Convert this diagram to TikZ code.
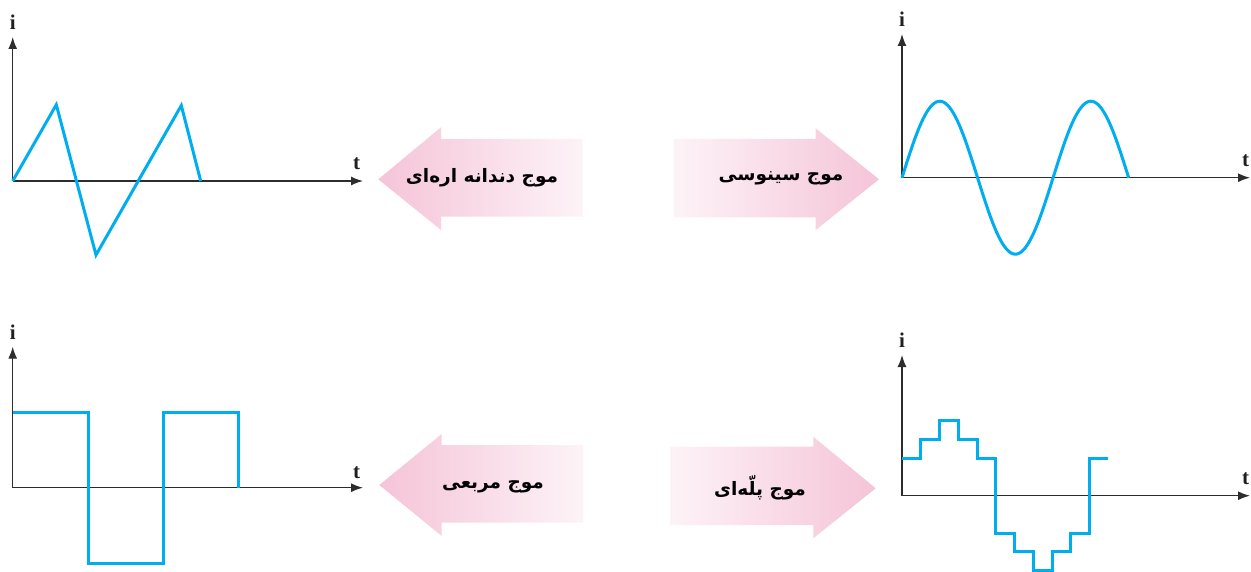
\documentclass[tikz,border=0pt]{standalone}
\usepackage{fontspec}
\usetikzlibrary{arrows.meta}
\newfontfamily\fafont[Script=Arabic]{DejaVu Sans}
\newfontfamily\axfont{Liberation Serif}
\TeXXeTstate=1
\definecolor{wavecyan}{RGB}{0,174,239}
\definecolor{axisgray}{RGB}{45,45,45}
\definecolor{pinkdark}{RGB}{245,196,216}
\definecolor{pinklight}{RGB}{253,243,247}

\begin{document}
\begin{tikzpicture}[x=1pt,y=-1pt] %% pixel units, y down
		\tikzstyle{axis}=[axisgray,line width=1.3pt,-{Latex[length=12pt,width=9pt]}]
		\tikzstyle{wave}=[wavecyan,line width=3pt,line join=miter]
		\tikzstyle{axlabel}=[font=\axfont\fontsize{21}{21}\selectfont\bfseries,inner sep=0pt,text=axisgray!70!black]
		\tikzstyle{falabel}=[font=\fafont\fontsize{18.5}{20}\selectfont\bfseries,inner sep=0pt]
		\useasboundingbox (0,0) rectangle (1251,572);
		%% sawtooth wave
		\coordinate (O1) at (12.7,181);
		\draw[axis] (O1) -- (12.7,37) node[axlabel,above=7pt] (i1) {i};
		\draw[axis] (O1) -- (363,181) coordinate (T1);
		\node[axlabel] (t1) at (356.7,164) {t};
		\draw[wave] (O1) -- (56.3,104.7) -- (96,255) -- (181.3,105.5) -- (200.7,181);
		%% sine wave
		\coordinate (O2) at (902,177.7);
		\draw[axis] (O2) -- (902,34) node[axlabel,above=7pt] (i2) {i};
		\draw[axis] (O2) -- (1250,177.7) coordinate (T2);
		\node[axlabel] (t2) at (1245.7,161) {t};
		\begin{scope}[shift={(O2)}]
			\draw[wave] plot[domain=0:226.7,samples=120,smooth] (\x,{-76.5*sin(\x/151.1*360)});
		\end{scope}
		%% square wave
		\coordinate (O3) at (12.7,487.7);
		\draw[axis] (O3) -- (12.7,346.7) node[axlabel,above=7pt] (i3) {i};
		\draw[axis] (O3) -- (363,487.7) coordinate (T3);
		\node[axlabel] (t3) at (356.7,472.7) {t};
		\draw[wave] (12.7,412.3) -- (88,412.3) -- (88,563.3) -- (163.3,563.3)
			-- (163.3,412.3) -- (238.7,412.3) -- (238.7,487.7);
		%% staircase wave
		\coordinate (O4) at (902,495.7);
		\draw[axis] (O4) -- (902,355) node[axlabel,above=7pt] (i4) {i};
		\draw[axis] (O4) -- (1250,495.7) coordinate (T4);
		\node[axlabel] (t4) at (1245.7,479) {t};
		\begin{scope}[shift={(O4)},x=18.75pt,y=18.75pt]
			\draw[wave] (0,2) \foreach \v [count=\k] in {2,3,4,3,2,-2,-3,-4,-3,-2,2} { -- (\k-1,\v) -- (\k,\v) };
		\end{scope}
		%% block arrows
		\shade[left color=pinkdark,right color=pinklight] (378.3,179.3) -- (441,127.3) -- (441,139)
			-- (582.7,139) -- (582.7,216.7) -- (441,216.7) -- (441,230) -- cycle;
		\shade[left color=pinklight,right color=pinkdark] (674,139) -- (815.7,139) -- (815.7,128.3)
			-- (879,179.3) -- (815.7,230) -- (815.7,217.3) -- (674,217.3) -- cycle;
		\shade[left color=pinkdark,right color=pinklight] (379.3,485) -- (441.7,434) -- (441.7,445)
			-- (583.3,445) -- (583.3,522.7) -- (441.7,522.7) -- (441.7,536) -- cycle;
		\shade[left color=pinklight,right color=pinkdark] (670,446.7) -- (813.3,446.7) -- (813.3,436.7)
			-- (875.7,488.3) -- (813.3,538.3) -- (813.3,525) -- (670,525) -- cycle;
		%% arrow texts
		\node[falabel] (saw) at (482,178) {\beginR موج دندانه اره^^^^200cای\endR};
		\node[falabel] (sine) at (781,178) {\beginR موج سینوسی\endR};
		\node[falabel] (square) at (493,486.7) {\beginR موج مربعی\endR};
		\node[falabel] (stair) at (760,488) {\beginR موج پلّه^^^^200cای\endR};
	\end{tikzpicture}
\end{document}
